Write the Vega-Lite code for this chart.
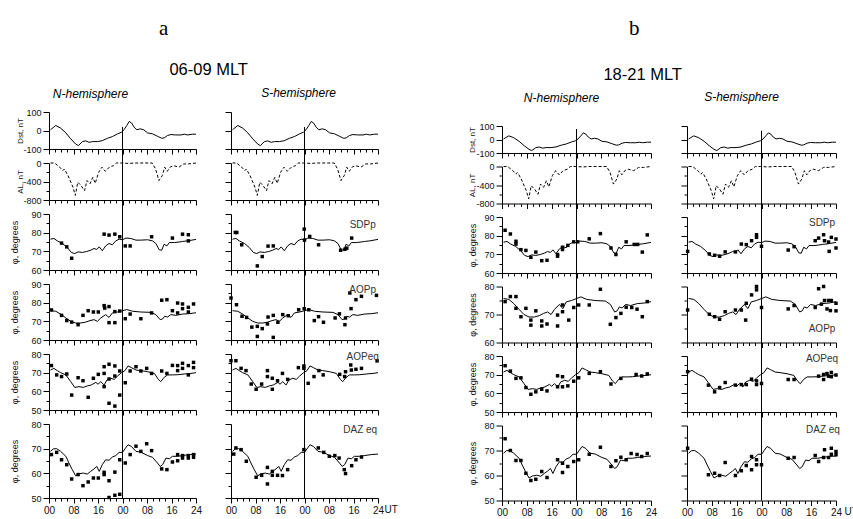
{
"$schema":"https://vega.github.io/schema/vega-lite/v6.json",
"background":"white",
"padding":{"left":10,"top":18,"right":0,"bottom":0},
"spacing":70,
"config":{"view":{"stroke":null},
"axis":{"grid":false,"domainColor":"black","tickColor":"black","labelColor":"#111","labelFont":"Liberation Sans","labelFontSize":9,"titleFont":"Liberation Sans","titleFontSize":9,"titleFontWeight":"normal","titleColor":"#111","labelPadding":2,"titlePadding":2,"domainWidth":1,"tickWidth":1,"labelOverlap":false,"labelFlush":false},
"title":{"font":"Liberation Sans","fontWeight":"normal","color":"black"},"font":"Liberation Sans"},
"datasets":{
"mid":[{"t":24}],
"lines":[
{"s":"D","t":0.5,"v":4},{"s":"D","t":2.2,"v":27},{"s":"D","t":3.8,"v":13},{"s":"D","t":5.5,"v":-13},{"s":"D","t":7.1,"v":-45},{"s":"D","t":8.7,"v":-73},{"s":"D","t":9.6,"v":-82},{"s":"D","t":10.9,"v":-60},{"s":"D","t":12,"v":-56},{"s":"D","t":13.1,"v":-64},{"s":"D","t":14.2,"v":-60},{"s":"D","t":15.8,"v":-60},{"s":"D","t":17.4,"v":-55},{"s":"D","t":19.1,"v":-42},{"s":"D","t":20.7,"v":-33},{"s":"D","t":22.4,"v":-18},{"s":"D","t":23.7,"v":-9},{"s":"D","t":24.5,"v":4},{"s":"D","t":25.4,"v":27},{"s":"D","t":26.2,"v":49},{"s":"D","t":27,"v":40},{"s":"D","t":27.8,"v":18},{"s":"D","t":28.7,"v":4},{"s":"D","t":29.8,"v":9},{"s":"D","t":30.9,"v":4},{"s":"D","t":32.2,"v":-13},{"s":"D","t":33.8,"v":-18},{"s":"D","t":35.4,"v":-31},{"s":"D","t":36.8,"v":-42},{"s":"D","t":37.6,"v":-40},{"s":"D","t":38.7,"v":-27},{"s":"D","t":39.8,"v":-22},{"s":"D","t":41.4,"v":-24},{"s":"D","t":43.1,"v":-24},{"s":"D","t":44.2,"v":-20},{"s":"D","t":45.3,"v":-24},{"s":"D","t":46.9,"v":-20},{"s":"D","t":48,"v":-20},
{"s":"A","t":0.5,"v":0},{"s":"A","t":1.8,"v":0},{"s":"A","t":3.5,"v":-90},{"s":"A","t":4.5,"v":-165},{"s":"A","t":5,"v":-130},{"s":"A","t":6.2,"v":-270},{"s":"A","t":7.8,"v":-520},{"s":"A","t":8.6,"v":-700},{"s":"A","t":9.4,"v":-415},{"s":"A","t":10.5,"v":-490},{"s":"A","t":11.6,"v":-600},{"s":"A","t":12.4,"v":-380},{"s":"A","t":13.4,"v":-450},{"s":"A","t":14.3,"v":-310},{"s":"A","t":15.1,"v":-440},{"s":"A","t":16.2,"v":-200},{"s":"A","t":17.3,"v":-90},{"s":"A","t":18.4,"v":-180},{"s":"A","t":19.7,"v":-90},{"s":"A","t":21,"v":-60},{"s":"A","t":22,"v":0},{"s":"A","t":23.8,"v":0},{"s":"A","t":26,"v":-10},{"s":"A","t":28,"v":0},{"s":"A","t":30,"v":0},{"s":"A","t":33.7,"v":0},{"s":"A","t":34.8,"v":-130},{"s":"A","t":35.9,"v":-380},{"s":"A","t":37,"v":-270},{"s":"A","t":37.8,"v":-90},{"s":"A","t":38.6,"v":-180},{"s":"A","t":39.7,"v":-80},{"s":"A","t":40.8,"v":-60},{"s":"A","t":42.4,"v":-90},{"s":"A","t":44,"v":-20},{"s":"A","t":45.6,"v":-20},{"s":"A","t":48,"v":0},
{"s":"L3","t":0.5,"v":76.5},{"s":"L3","t":1.6,"v":76.9},{"s":"L3","t":2.7,"v":75.6},{"s":"L3","t":4.4,"v":74.2},{"s":"L3","t":6,"v":72},{"s":"L3","t":7.3,"v":69.4},{"s":"L3","t":8.4,"v":68.8},{"s":"L3","t":9.5,"v":69.7},{"s":"L3","t":10.9,"v":69.4},{"s":"L3","t":12.3,"v":69.9},{"s":"L3","t":13.6,"v":70.6},{"s":"L3","t":14.7,"v":71.5},{"s":"L3","t":15.6,"v":71},{"s":"L3","t":16.4,"v":72.4},{"s":"L3","t":17.4,"v":70.3},{"s":"L3","t":18.5,"v":72.9},{"s":"L3","t":19.6,"v":74.2},{"s":"L3","t":20.7,"v":73.5},{"s":"L3","t":21.8,"v":75.6},{"s":"L3","t":22.9,"v":76.5},{"s":"L3","t":24,"v":76.2},{"s":"L3","t":25.1,"v":77.1},{"s":"L3","t":26.7,"v":76.9},{"s":"L3","t":28.4,"v":76},{"s":"L3","t":30,"v":76},{"s":"L3","t":32.2,"v":76.2},{"s":"L3","t":33.8,"v":75.6},{"s":"L3","t":34.9,"v":74.2},{"s":"L3","t":36,"v":70.8},{"s":"L3","t":36.8,"v":70.6},{"s":"L3","t":37.6,"v":73.8},{"s":"L3","t":38.5,"v":72.9},{"s":"L3","t":39.3,"v":74.7},{"s":"L3","t":40.9,"v":74.7},{"s":"L3","t":42.5,"v":75},{"s":"L3","t":43.6,"v":75.3},{"s":"L3","t":45.3,"v":75.6},{"s":"L3","t":48,"v":76.4},
{"s":"L4","t":0.5,"v":75.7},{"s":"L4","t":2.2,"v":75.4},{"s":"L4","t":3.8,"v":73.9},{"s":"L4","t":5.5,"v":71.8},{"s":"L4","t":7.1,"v":70},{"s":"L4","t":8.7,"v":69.1},{"s":"L4","t":10.4,"v":69.1},{"s":"L4","t":12,"v":69.6},{"s":"L4","t":13.4,"v":70.4},{"s":"L4","t":14.7,"v":70.9},{"s":"L4","t":15.8,"v":70},{"s":"L4","t":16.9,"v":71.8},{"s":"L4","t":18.5,"v":73.6},{"s":"L4","t":19.6,"v":72.1},{"s":"L4","t":20.7,"v":74.5},{"s":"L4","t":22.4,"v":75},{"s":"L4","t":24,"v":75.7},{"s":"L4","t":25.4,"v":76.3},{"s":"L4","t":27.3,"v":75.4},{"s":"L4","t":30,"v":75},{"s":"L4","t":33.3,"v":74.8},{"s":"L4","t":34.9,"v":73.6},{"s":"L4","t":36.3,"v":70.9},{"s":"L4","t":37.1,"v":71.3},{"s":"L4","t":37.8,"v":72.7},{"s":"L4","t":38.7,"v":72.3},{"s":"L4","t":39.8,"v":73.6},{"s":"L4","t":41.4,"v":73.2},{"s":"L4","t":43.6,"v":73.9},{"s":"L4","t":45.8,"v":74.1},{"s":"L4","t":48,"v":74.6},
{"s":"L5","t":0.5,"v":71.4},{"s":"L5","t":1.6,"v":72.3},{"s":"L5","t":2.7,"v":71.1},{"s":"L5","t":3.8,"v":70},{"s":"L5","t":5.5,"v":68.8},{"s":"L5","t":7.1,"v":65.2},{"s":"L5","t":8.4,"v":62.1},{"s":"L5","t":9.8,"v":62.5},{"s":"L5","t":11.2,"v":62.1},{"s":"L5","t":12.5,"v":62.9},{"s":"L5","t":13.8,"v":63.4},{"s":"L5","t":15.3,"v":64.8},{"s":"L5","t":16,"v":63.8},{"s":"L5","t":16.9,"v":65.2},{"s":"L5","t":18,"v":63.4},{"s":"L5","t":18.9,"v":66.1},{"s":"L5","t":20.2,"v":67},{"s":"L5","t":21.3,"v":66.4},{"s":"L5","t":22.4,"v":68.2},{"s":"L5","t":23.7,"v":70},{"s":"L5","t":24.8,"v":71.1},{"s":"L5","t":25.8,"v":73.6},{"s":"L5","t":26.9,"v":72.7},{"s":"L5","t":28.4,"v":71.4},{"s":"L5","t":30,"v":71.1},{"s":"L5","t":32.2,"v":70.5},{"s":"L5","t":34.4,"v":69.6},{"s":"L5","t":35.7,"v":66.4},{"s":"L5","t":36.5,"v":65.2},{"s":"L5","t":37.6,"v":67.5},{"s":"L5","t":38.7,"v":68.8},{"s":"L5","t":40.3,"v":68.8},{"s":"L5","t":42,"v":68.9},{"s":"L5","t":44.2,"v":69.3},{"s":"L5","t":46.4,"v":69.6},{"s":"L5","t":48,"v":70},
{"s":"L6","t":0.5,"v":68.9},{"s":"L6","t":1.4,"v":69.9},{"s":"L6","t":2.5,"v":70},{"s":"L6","t":3.8,"v":68.9},{"s":"L6","t":5.5,"v":66.9},{"s":"L6","t":6.5,"v":64.2},{"s":"L6","t":7.6,"v":61.5},{"s":"L6","t":8.7,"v":59},{"s":"L6","t":9.8,"v":59.8},{"s":"L6","t":11.2,"v":60.1},{"s":"L6","t":12.5,"v":59.7},{"s":"L6","t":13.6,"v":60.8},{"s":"L6","t":14.7,"v":61.8},{"s":"L6","t":15.6,"v":62.8},{"s":"L6","t":16.4,"v":60.8},{"s":"L6","t":17.4,"v":63.5},{"s":"L6","t":18.5,"v":65.5},{"s":"L6","t":19.6,"v":65.3},{"s":"L6","t":20.7,"v":66.6},{"s":"L6","t":21.8,"v":67.2},{"s":"L6","t":22.9,"v":68.5},{"s":"L6","t":24,"v":68.5},{"s":"L6","t":24.8,"v":69.9},{"s":"L6","t":25.8,"v":71.6},{"s":"L6","t":26.9,"v":70.9},{"s":"L6","t":28.4,"v":68.9},{"s":"L6","t":30,"v":68.6},{"s":"L6","t":32.2,"v":67.2},{"s":"L6","t":33.8,"v":66.5},{"s":"L6","t":35.4,"v":64.2},{"s":"L6","t":36.3,"v":62.8},{"s":"L6","t":37.1,"v":63.5},{"s":"L6","t":38.2,"v":66.2},{"s":"L6","t":39.3,"v":65.9},{"s":"L6","t":40.3,"v":66.9},{"s":"L6","t":42,"v":66.9},{"s":"L6","t":43.6,"v":67.2},{"s":"L6","t":45.8,"v":67.6},{"s":"L6","t":48,"v":67.8}
],
"pts":[
{"p":"aN3","t":4.1,"v":74.4},{"p":"aN3","t":5.8,"v":72.4},{"p":"aN3","t":7.4,"v":66.3},{"p":"aN3","t":18,"v":79.2},{"p":"aN3","t":19.6,"v":78.7},{"p":"aN3","t":21.5,"v":79.2},{"p":"aN3","t":23.1,"v":77.8},{"p":"aN3","t":24.9,"v":72.9},{"p":"aN3","t":26.5,"v":72.9},{"p":"aN3","t":33.5,"v":77.8},{"p":"aN3","t":40.3,"v":77.1},{"p":"aN3","t":43.6,"v":79.2},{"p":"aN3","t":45.5,"v":78.9},{"p":"aN3","t":45.5,"v":75.6},
{"p":"aN4","t":0.8,"v":76.1},{"p":"aN4","t":4.1,"v":73.2},{"p":"aN4","t":5.8,"v":70.4},{"p":"aN4","t":7.4,"v":69.6},{"p":"aN4","t":9.5,"v":68.2},{"p":"aN4","t":11.1,"v":73.2},{"p":"aN4","t":12.8,"v":75.7},{"p":"aN4","t":14.5,"v":75},{"p":"aN4","t":16.1,"v":75},{"p":"aN4","t":18,"v":78.4},{"p":"aN4","t":18.2,"v":77.1},{"p":"aN4","t":19.6,"v":77.9},{"p":"aN4","t":19.6,"v":69.3},{"p":"aN4","t":21.5,"v":69.3},{"p":"aN4","t":21.5,"v":75.2},{"p":"aN4","t":23.1,"v":75.5},{"p":"aN4","t":24.9,"v":71.4},{"p":"aN4","t":26.5,"v":73.9},{"p":"aN4","t":30,"v":71.4},{"p":"aN4","t":33.5,"v":74.5},{"p":"aN4","t":36.8,"v":81.3},{"p":"aN4","t":38.5,"v":81.6},{"p":"aN4","t":40.3,"v":75.7},{"p":"aN4","t":42,"v":74.5},{"p":"aN4","t":42,"v":79.8},{"p":"aN4","t":43.6,"v":79.3},{"p":"aN4","t":43.6,"v":76.8},{"p":"aN4","t":45.5,"v":77.5},{"p":"aN4","t":45.5,"v":75},{"p":"aN4","t":47.2,"v":79.3},
{"p":"aN5","t":0.8,"v":73.8},{"p":"aN5","t":2.5,"v":68.8},{"p":"aN5","t":4.1,"v":67.9},{"p":"aN5","t":5.8,"v":69.3},{"p":"aN5","t":7.4,"v":58},{"p":"aN5","t":9.5,"v":67.3},{"p":"aN5","t":11.1,"v":65.7},{"p":"aN5","t":12.8,"v":56.8},{"p":"aN5","t":14.5,"v":67},{"p":"aN5","t":16.1,"v":69.1},{"p":"aN5","t":18,"v":62.5},{"p":"aN5","t":18,"v":69.6},{"p":"aN5","t":18,"v":73.2},{"p":"aN5","t":19.6,"v":66.6},{"p":"aN5","t":19.6,"v":74.5},{"p":"aN5","t":21.5,"v":68.2},{"p":"aN5","t":21.5,"v":73.6},{"p":"aN5","t":19.6,"v":53.6},{"p":"aN5","t":21.5,"v":52.1},{"p":"aN5","t":23.1,"v":58},{"p":"aN5","t":23.1,"v":70.9},{"p":"aN5","t":24.9,"v":64.6},{"p":"aN5","t":26.5,"v":70.9},{"p":"aN5","t":28.4,"v":73.2},{"p":"aN5","t":30,"v":70.9},{"p":"aN5","t":31.9,"v":72.3},{"p":"aN5","t":33.5,"v":69.6},{"p":"aN5","t":36.8,"v":70.9},{"p":"aN5","t":38.5,"v":69.6},{"p":"aN5","t":40.3,"v":73.9},{"p":"aN5","t":42,"v":73.8},{"p":"aN5","t":42,"v":71.1},{"p":"aN5","t":43.6,"v":75},{"p":"aN5","t":43.6,"v":72.3},{"p":"aN5","t":45.5,"v":73.8},{"p":"aN5","t":45.5,"v":68.8},{"p":"aN5","t":47.2,"v":75.5},{"p":"aN5","t":47.2,"v":72.7},
{"p":"aN6","t":0.8,"v":67.6},{"p":"aN6","t":2.5,"v":68.5},{"p":"aN6","t":4.1,"v":65.5},{"p":"aN6","t":5.8,"v":63.5},{"p":"aN6","t":7.4,"v":57.7},{"p":"aN6","t":9.5,"v":59.5},{"p":"aN6","t":11.1,"v":55},{"p":"aN6","t":12.8,"v":56.5},{"p":"aN6","t":14.5,"v":58.1},{"p":"aN6","t":16.1,"v":58.1},{"p":"aN6","t":18,"v":60.4},{"p":"aN6","t":18,"v":59.5},{"p":"aN6","t":19.6,"v":57},{"p":"aN6","t":19.6,"v":50.2},{"p":"aN6","t":21.5,"v":60.5},{"p":"aN6","t":21.5,"v":51.1},{"p":"aN6","t":23.1,"v":65.5},{"p":"aN6","t":23.1,"v":51.5},{"p":"aN6","t":24.9,"v":64.2},{"p":"aN6","t":26.5,"v":67.6},{"p":"aN6","t":28.4,"v":71},{"p":"aN6","t":30,"v":68.9},{"p":"aN6","t":31.9,"v":72},{"p":"aN6","t":33.5,"v":69.2},{"p":"aN6","t":36.8,"v":61.8},{"p":"aN6","t":38.5,"v":61.5},{"p":"aN6","t":40.3,"v":64.6},{"p":"aN6","t":42,"v":65.1},{"p":"aN6","t":42,"v":67.6},{"p":"aN6","t":43.6,"v":67.2},{"p":"aN6","t":43.6,"v":66.2},{"p":"aN6","t":45.5,"v":67.2},{"p":"aN6","t":45.5,"v":66.2},{"p":"aN6","t":47.2,"v":67.6},{"p":"aN6","t":47.2,"v":66.5},
{"p":"aS3","t":1.4,"v":80.1},{"p":"aS3","t":1.9,"v":80.1},{"p":"aS3","t":3.5,"v":73.5},{"p":"aS3","t":8.6,"v":62.2},{"p":"aS3","t":10.2,"v":67.2},{"p":"aS3","t":12.1,"v":72.8},{"p":"aS3","t":13.8,"v":72.9},{"p":"aS3","t":23.9,"v":81.9},{"p":"aS3","t":24,"v":76},{"p":"aS3","t":25.7,"v":78},{"p":"aS3","t":28.6,"v":73.5},{"p":"aS3","t":35.8,"v":70.6},{"p":"aS3","t":37.2,"v":71.1},{"p":"aS3","t":37.8,"v":71.7},{"p":"aS3","t":39.4,"v":77.1},
{"p":"aS4","t":0,"v":82.5},{"p":"aS4","t":1.8,"v":78.9},{"p":"aS4","t":3.6,"v":72.7},{"p":"aS4","t":5.1,"v":72.1},{"p":"aS4","t":6.8,"v":66.9},{"p":"aS4","t":8.6,"v":61.9},{"p":"aS4","t":8.6,"v":67.3},{"p":"aS4","t":10.2,"v":66.1},{"p":"aS4","t":11.9,"v":68.6},{"p":"aS4","t":12.1,"v":72.3},{"p":"aS4","t":13.8,"v":73.2},{"p":"aS4","t":13.8,"v":61.4},{"p":"aS4","t":15.3,"v":69.5},{"p":"aS4","t":16.9,"v":73.6},{"p":"aS4","t":18.7,"v":73},{"p":"aS4","t":22.1,"v":76.2},{"p":"aS4","t":23.9,"v":76.8},{"p":"aS4","t":25.4,"v":76.2},{"p":"aS4","t":27.2,"v":70.4},{"p":"aS4","t":28.6,"v":72.5},{"p":"aS4","t":30.2,"v":69.5},{"p":"aS4","t":34,"v":71.8},{"p":"aS4","t":35.4,"v":74},{"p":"aS4","t":37.2,"v":68.2},{"p":"aS4","t":37.4,"v":71.8},{"p":"aS4","t":39.2,"v":76.8},{"p":"aS4","t":38.8,"v":85.2},{"p":"aS4","t":40.8,"v":81.6},{"p":"aS4","t":42.6,"v":83.4},{"p":"aS4","t":47.5,"v":83.9},
{"p":"aS5","t":0,"v":76.4},{"p":"aS5","t":1.6,"v":76.4},{"p":"aS5","t":3.3,"v":72.3},{"p":"aS5","t":4.9,"v":71.1},{"p":"aS5","t":6.6,"v":63.9},{"p":"aS5","t":8.2,"v":61.1},{"p":"aS5","t":10,"v":63.9},{"p":"aS5","t":11.9,"v":71.1},{"p":"aS5","t":11.9,"v":67.9},{"p":"aS5","t":13.5,"v":67},{"p":"aS5","t":13.5,"v":61.1},{"p":"aS5","t":15.2,"v":65.7},{"p":"aS5","t":16.8,"v":69.6},{"p":"aS5","t":18.5,"v":66.4},{"p":"aS5","t":22,"v":72.7},{"p":"aS5","t":23.8,"v":73.6},{"p":"aS5","t":23.8,"v":72.3},{"p":"aS5","t":25.2,"v":64.3},{"p":"aS5","t":27.1,"v":67.9},{"p":"aS5","t":28.7,"v":71.1},{"p":"aS5","t":30.1,"v":68.8},{"p":"aS5","t":35.5,"v":69.1},{"p":"aS5","t":37.1,"v":67.9},{"p":"aS5","t":37.4,"v":70.5},{"p":"aS5","t":39.1,"v":74.1},{"p":"aS5","t":39.3,"v":71.4},{"p":"aS5","t":40.8,"v":71.8},{"p":"aS5","t":42.6,"v":72.3},{"p":"aS5","t":47.7,"v":76.3},
{"p":"aS6","t":0.9,"v":67.8},{"p":"aS6","t":1.6,"v":70.3},{"p":"aS6","t":3.3,"v":69.6},{"p":"aS6","t":5,"v":64.9},{"p":"aS6","t":8.2,"v":58.4},{"p":"aS6","t":10,"v":59.2},{"p":"aS6","t":11.9,"v":62.4},{"p":"aS6","t":11.9,"v":55.7},{"p":"aS6","t":13.5,"v":60.8},{"p":"aS6","t":13.5,"v":59.2},{"p":"aS6","t":15.2,"v":59.2},{"p":"aS6","t":16.8,"v":59.1},{"p":"aS6","t":18.5,"v":61.5},{"p":"aS6","t":23.8,"v":69.6},{"p":"aS6","t":28.5,"v":70.3},{"p":"aS6","t":30.3,"v":68.5},{"p":"aS6","t":32.1,"v":66.9},{"p":"aS6","t":33.9,"v":67.2},{"p":"aS6","t":35.3,"v":66.2},{"p":"aS6","t":37,"v":61.5},{"p":"aS6","t":37.4,"v":59.9},{"p":"aS6","t":39.4,"v":63.1},{"p":"aS6","t":40.8,"v":65.5},{"p":"aS6","t":42.6,"v":66.6},
{"p":"bN3","t":1,"v":82.9},{"p":"bN3","t":2.7,"v":80.9},{"p":"bN3","t":4.5,"v":77},{"p":"bN3","t":4.5,"v":75.5},{"p":"bN3","t":6.1,"v":72.5},{"p":"bN3","t":7.7,"v":72.1},{"p":"bN3","t":9.3,"v":68.4},{"p":"bN3","t":10.9,"v":71.2},{"p":"bN3","t":12.8,"v":66.6},{"p":"bN3","t":14.5,"v":66.8},{"p":"bN3","t":17.9,"v":69.9},{"p":"bN3","t":17.9,"v":69},{"p":"bN3","t":19.5,"v":72.6},{"p":"bN3","t":19.5,"v":73.8},{"p":"bN3","t":21.2,"v":74.8},{"p":"bN3","t":23.1,"v":76.7},{"p":"bN3","t":24.4,"v":76.7},{"p":"bN3","t":28.1,"v":78.3},{"p":"bN3","t":31.7,"v":81.1},{"p":"bN3","t":35.1,"v":73.4},{"p":"bN3","t":36.7,"v":69.9},{"p":"bN3","t":40,"v":76.7},{"p":"bN3","t":42.6,"v":75.3},{"p":"bN3","t":43.7,"v":75.3},{"p":"bN3","t":45.2,"v":71.2},{"p":"bN3","t":46.8,"v":80.4},
{"p":"bN4","t":1,"v":74.6},{"p":"bN4","t":2.7,"v":76.4},{"p":"bN4","t":4.5,"v":76.4},{"p":"bN4","t":4.5,"v":72.2},{"p":"bN4","t":6.1,"v":69.2},{"p":"bN4","t":7.7,"v":72.2},{"p":"bN4","t":9.3,"v":66.2},{"p":"bN4","t":9.3,"v":68},{"p":"bN4","t":10.9,"v":71.3},{"p":"bN4","t":12.8,"v":67.7},{"p":"bN4","t":12.8,"v":65.9},{"p":"bN4","t":14.5,"v":66.6},{"p":"bN4","t":17.9,"v":65.9},{"p":"bN4","t":17.9,"v":69.8},{"p":"bN4","t":19.5,"v":71},{"p":"bN4","t":19.5,"v":73.4},{"p":"bN4","t":21.5,"v":68},{"p":"bN4","t":23.1,"v":72.5},{"p":"bN4","t":24.7,"v":73.4},{"p":"bN4","t":28.1,"v":73.4},{"p":"bN4","t":31.7,"v":79},{"p":"bN4","t":34.9,"v":66.5},{"p":"bN4","t":36.7,"v":68.9},{"p":"bN4","t":38.3,"v":70.4},{"p":"bN4","t":40,"v":72.6},{"p":"bN4","t":41.8,"v":72.5},{"p":"bN4","t":43.5,"v":71.9},{"p":"bN4","t":45.2,"v":69.2},{"p":"bN4","t":46.8,"v":74.6},
{"p":"bN5","t":1,"v":74.8},{"p":"bN5","t":2.7,"v":71.9},{"p":"bN5","t":4.5,"v":68},{"p":"bN5","t":6.1,"v":68.3},{"p":"bN5","t":7.7,"v":63.1},{"p":"bN5","t":9.3,"v":59.5},{"p":"bN5","t":10.9,"v":60.8},{"p":"bN5","t":12.8,"v":62.2},{"p":"bN5","t":14.5,"v":61.3},{"p":"bN5","t":17.9,"v":69.4},{"p":"bN5","t":17.9,"v":63.5},{"p":"bN5","t":19.5,"v":68.9},{"p":"bN5","t":19.5,"v":63.5},{"p":"bN5","t":21.2,"v":64},{"p":"bN5","t":23.1,"v":66.5},{"p":"bN5","t":24.7,"v":68.3},{"p":"bN5","t":28.1,"v":70.7},{"p":"bN5","t":31.7,"v":71.6},{"p":"bN5","t":35.1,"v":65},{"p":"bN5","t":38.3,"v":68},{"p":"bN5","t":43.2,"v":70.1},{"p":"bN5","t":45,"v":69.3},{"p":"bN5","t":46.8,"v":70.4},
{"p":"bN6","t":1,"v":74.7},{"p":"bN6","t":2.7,"v":70},{"p":"bN6","t":4.5,"v":66},{"p":"bN6","t":6.1,"v":66},{"p":"bN6","t":7.7,"v":60.9},{"p":"bN6","t":9.3,"v":58},{"p":"bN6","t":10.9,"v":58.5},{"p":"bN6","t":12.8,"v":61.6},{"p":"bN6","t":14.5,"v":59.2},{"p":"bN6","t":17.9,"v":66.3},{"p":"bN6","t":19.5,"v":64.9},{"p":"bN6","t":19.5,"v":61.2},{"p":"bN6","t":21.2,"v":63.6},{"p":"bN6","t":23.1,"v":65.6},{"p":"bN6","t":24.7,"v":66.3},{"p":"bN6","t":28.1,"v":68.5},{"p":"bN6","t":31.7,"v":71.3},{"p":"bN6","t":35.1,"v":63.6},{"p":"bN6","t":36.7,"v":65.9},{"p":"bN6","t":38.3,"v":67.3},{"p":"bN6","t":40,"v":66.3},{"p":"bN6","t":41.6,"v":68.8},{"p":"bN6","t":43.5,"v":68.4},{"p":"bN6","t":45,"v":67.6},{"p":"bN6","t":46.8,"v":68.8},
{"p":"bS3","t":0.2,"v":71.6},{"p":"bS3","t":7.2,"v":70.2},{"p":"bS3","t":8.9,"v":69.5},{"p":"bS3","t":10.5,"v":69},{"p":"bS3","t":12.3,"v":71.3},{"p":"bS3","t":15.6,"v":71.3},{"p":"bS3","t":17.5,"v":75.5},{"p":"bS3","t":19.1,"v":75.2},{"p":"bS3","t":20.8,"v":77.3},{"p":"bS3","t":22.4,"v":79.1},{"p":"bS3","t":22.4,"v":80.5},{"p":"bS3","t":24,"v":74.3},{"p":"bS3","t":32.6,"v":72.3},{"p":"bS3","t":34.5,"v":74.1},{"p":"bS3","t":41.3,"v":77.3},{"p":"bS3","t":42.4,"v":78.7},{"p":"bS3","t":44,"v":80.5},{"p":"bS3","t":44.3,"v":77.3},{"p":"bS3","t":45.6,"v":76.6},{"p":"bS3","t":45.8,"v":71.6},{"p":"bS3","t":46.5,"v":79.1},{"p":"bS3","t":48,"v":78.2},{"p":"bS3","t":48,"v":73.4},
{"p":"bS4","t":0.2,"v":71.6},{"p":"bS4","t":7.2,"v":70.1},{"p":"bS4","t":8.9,"v":69.2},{"p":"bS4","t":10.5,"v":68.3},{"p":"bS4","t":12.3,"v":71},{"p":"bS4","t":15.6,"v":71.6},{"p":"bS4","t":17.5,"v":71.6},{"p":"bS4","t":18.9,"v":68},{"p":"bS4","t":19.1,"v":74},{"p":"bS4","t":20.8,"v":77},{"p":"bS4","t":22.4,"v":78.8},{"p":"bS4","t":22.4,"v":80},{"p":"bS4","t":24,"v":72.5},{"p":"bS4","t":32.6,"v":72},{"p":"bS4","t":34.5,"v":73.2},{"p":"bS4","t":41.3,"v":72.5},{"p":"bS4","t":42.4,"v":79.2},{"p":"bS4","t":44,"v":80},{"p":"bS4","t":43.3,"v":73.7},{"p":"bS4","t":44.3,"v":75},{"p":"bS4","t":45.6,"v":75},{"p":"bS4","t":46.5,"v":75},{"p":"bS4","t":46.2,"v":71.4},{"p":"bS4","t":48,"v":71.3},{"p":"bS4","t":48,"v":74},{"p":"bS4","t":45.1,"v":72},
{"p":"bS5","t":0.2,"v":71.6},{"p":"bS5","t":6.9,"v":64.4},{"p":"bS5","t":8.9,"v":60.8},{"p":"bS5","t":10.5,"v":63.1},{"p":"bS5","t":12.3,"v":65.8},{"p":"bS5","t":15.6,"v":64.4},{"p":"bS5","t":17.5,"v":64.7},{"p":"bS5","t":19.1,"v":64.7},{"p":"bS5","t":20.8,"v":67.6},{"p":"bS5","t":22.4,"v":66.7},{"p":"bS5","t":22.4,"v":64.7},{"p":"bS5","t":24,"v":65.3},{"p":"bS5","t":32.6,"v":67.4},{"p":"bS5","t":34.5,"v":67.4},{"p":"bS5","t":42.4,"v":69.2},{"p":"bS5","t":44,"v":70.1},{"p":"bS5","t":44,"v":67.4},{"p":"bS5","t":45.1,"v":70.6},{"p":"bS5","t":45.6,"v":69.2},{"p":"bS5","t":46.5,"v":71.2},{"p":"bS5","t":46.5,"v":68.9},{"p":"bS5","t":48,"v":69.8},
{"p":"bS6","t":0.2,"v":70.9},{"p":"bS6","t":6.9,"v":60.3},{"p":"bS6","t":8.9,"v":60.9},{"p":"bS6","t":10.5,"v":60},{"p":"bS6","t":12.3,"v":65.2},{"p":"bS6","t":15.6,"v":60},{"p":"bS6","t":17.5,"v":61.9},{"p":"bS6","t":19.1,"v":64},{"p":"bS6","t":20.8,"v":67.6},{"p":"bS6","t":20.8,"v":62.3},{"p":"bS6","t":22.4,"v":66.3},{"p":"bS6","t":22.4,"v":64.3},{"p":"bS6","t":24,"v":64.3},{"p":"bS6","t":32.6,"v":66.9},{"p":"bS6","t":34.5,"v":67.2},{"p":"bS6","t":41.3,"v":68},{"p":"bS6","t":42.4,"v":65.6},{"p":"bS6","t":44,"v":67.2},{"p":"bS6","t":44.3,"v":70.3},{"p":"bS6","t":45.6,"v":67.2},{"p":"bS6","t":46.5,"v":70.9},{"p":"bS6","t":46.5,"v":68.5},{"p":"bS6","t":48,"v":69.6},{"p":"bS6","t":48,"v":68.3}
]},
"hconcat":[
{"spacing":22,"vconcat":[
{"width":330,"height":1,"data":{"values":[]},"mark":"point","title":{"text":"a","font":"Liberation Serif","fontSize":21,"anchor":"start","frame":"group","offset":0,"dx":110}},
{"title":{"text":"06-09 MLT","fontSize":16.5,"offset":8,"dx":5,"anchor":"middle"},
"columns":2,"bounds":"flush","spacing":{"row":14,"column":35},
"concat":[
{"width":147,"height":37,"title":{"text":"N-hemisphere","frame":"group","fontStyle":"italic","fontSize":12,"offset":7,"dx":-32},
"layer":[
{"data":{"name":"lines"},"transform":[{"filter":"datum.s==='D'"}],"mark":{"type":"line","color":"black","strokeWidth":1},
"encoding":{"x":{"field":"t","type":"quantitative","scale":{"domain":[0,48],"nice":false},"axis":{"tickCount":24,"labels":false,"title":null,"tickSize":{"condition":{"test":"datum.value % 8 === 0","value":5},"value":3}}},
"y":{"field":"v","type":"quantitative","scale":{"domain":[-100,100],"nice":false,"zero":false},"axis":{"tickCount":2,"labelExpr":"'' + datum.value","title":"Dst, nT","titleX":-25,"titleFontSize":8,"tickSize":6}}}},
{"data":{"name":"mid"},"mark":{"type":"rule","color":"black","strokeWidth":1},
"encoding":{"x":{"field":"t","type":"quantitative","scale":{"domain":[0,48],"nice":false},"axis":{"tickCount":24,"labels":false,"title":null,"tickSize":{"condition":{"test":"datum.value % 8 === 0","value":5},"value":3}}},
"y":{"datum":19,"type":"quantitative","scale":{"domain":[-100,100],"nice":false,"zero":false},"axis":{"tickCount":2,"labelExpr":"'' + datum.value","title":"Dst, nT","titleX":-25,"titleFontSize":8,"tickSize":6}},"y2":{"datum":-250}}}]},
{"width":147,"height":37,"title":{"text":"S-hemisphere","frame":"group","fontStyle":"italic","fontSize":12,"offset":12,"dx":-6},
"layer":[
{"data":{"name":"lines"},"transform":[{"filter":"datum.s==='D'"}],"mark":{"type":"line","color":"black","strokeWidth":1},
"encoding":{"x":{"field":"t","type":"quantitative","scale":{"domain":[0,48],"nice":false},"axis":{"tickCount":24,"labels":false,"title":null,"tickSize":{"condition":{"test":"datum.value % 8 === 0","value":5},"value":3}}},
"y":{"field":"v","type":"quantitative","scale":{"domain":[-100,100],"nice":false,"zero":false},"axis":{"tickCount":2,"labels":false,"title":null,"tickSize":6}}}},
{"data":{"name":"mid"},"mark":{"type":"rule","color":"black","strokeWidth":1},
"encoding":{"x":{"field":"t","type":"quantitative","scale":{"domain":[0,48],"nice":false},"axis":{"tickCount":24,"labels":false,"title":null,"tickSize":{"condition":{"test":"datum.value % 8 === 0","value":5},"value":3}}},
"y":{"datum":19,"type":"quantitative","scale":{"domain":[-100,100],"nice":false,"zero":false},"axis":{"tickCount":2,"labels":false,"title":null,"tickSize":6}},"y2":{"datum":-250}}}]},
{"width":147,"height":37,
"layer":[
{"data":{"name":"lines"},"transform":[{"filter":"datum.s==='A'"}],"mark":{"type":"line","color":"black","strokeWidth":1,"strokeDash":[3,2]},
"encoding":{"x":{"field":"t","type":"quantitative","scale":{"domain":[0,48],"nice":false},"axis":{"tickCount":24,"labels":false,"title":null,"tickSize":{"condition":{"test":"datum.value % 8 === 0","value":5},"value":3}}},
"y":{"field":"v","type":"quantitative","scale":{"domain":[-800,0],"nice":false,"zero":false},"axis":{"tickCount":4,"labelExpr":"datum.value % 400 === 0 ? '' + datum.value : ''","title":"AL, nT","titleX":-25,"titleFontSize":8,"tickSize":{"condition":{"test":"datum.value % 400 === 0","value":6},"value":3}}}}},
{"data":{"name":"mid"},"mark":{"type":"rule","color":"black","strokeWidth":1},
"encoding":{"x":{"field":"t","type":"quantitative","scale":{"domain":[0,48],"nice":false},"axis":{"tickCount":24,"labels":false,"title":null,"tickSize":{"condition":{"test":"datum.value % 8 === 0","value":5},"value":3}}},
"y":{"datum":0,"type":"quantitative","scale":{"domain":[-800,0],"nice":false,"zero":false},"axis":{"tickCount":4,"labelExpr":"datum.value % 400 === 0 ? '' + datum.value : ''","title":"AL, nT","titleX":-25,"titleFontSize":8,"tickSize":{"condition":{"test":"datum.value % 400 === 0","value":6},"value":3}}},"y2":{"datum":-1200}}}]},
{"width":147,"height":37,
"layer":[
{"data":{"name":"lines"},"transform":[{"filter":"datum.s==='A'"}],"mark":{"type":"line","color":"black","strokeWidth":1,"strokeDash":[3,2]},
"encoding":{"x":{"field":"t","type":"quantitative","scale":{"domain":[0,48],"nice":false},"axis":{"tickCount":24,"labels":false,"title":null,"tickSize":{"condition":{"test":"datum.value % 8 === 0","value":5},"value":3}}},
"y":{"field":"v","type":"quantitative","scale":{"domain":[-800,0],"nice":false,"zero":false},"axis":{"tickCount":4,"labels":false,"title":null,"tickSize":{"condition":{"test":"datum.value % 400 === 0","value":6},"value":3}}}}},
{"data":{"name":"mid"},"mark":{"type":"rule","color":"black","strokeWidth":1},
"encoding":{"x":{"field":"t","type":"quantitative","scale":{"domain":[0,48],"nice":false},"axis":{"tickCount":24,"labels":false,"title":null,"tickSize":{"condition":{"test":"datum.value % 8 === 0","value":5},"value":3}}},
"y":{"datum":0,"type":"quantitative","scale":{"domain":[-800,0],"nice":false,"zero":false},"axis":{"tickCount":4,"labels":false,"title":null,"tickSize":{"condition":{"test":"datum.value % 400 === 0","value":6},"value":3}}},"y2":{"datum":-1200}}}]},
{"width":147,"height":56,
"layer":[
{"encoding":{"x":{"field":"t","type":"quantitative","scale":{"domain":[0,48],"nice":false},"axis":{"tickCount":24,"labels":false,"title":null,"tickSize":{"condition":{"test":"datum.value % 8 === 0","value":5},"value":3}}},
"y":{"field":"v","type":"quantitative","scale":{"domain":[60,90],"nice":false,"zero":false},"axis":{"tickCount":6,"labelExpr":"datum.value % 10 === 0 ? '' + datum.value : ''","title":"φ, degrees","titleX":-30,"tickSize":{"condition":{"test":"datum.value % 10 === 0","value":6},"value":3}}}},
"layer":[{"data":{"name":"lines"},"transform":[{"filter":"datum.s==='L3'"}],"mark":{"type":"line","color":"black","strokeWidth":1}},
{"data":{"name":"pts"},"transform":[{"filter":"datum.p==='aN3'"}],"mark":{"type":"square","color":"black","size":12,"opacity":1}}]},
{"data":{"name":"mid"},"mark":{"type":"rule","color":"black","strokeWidth":1},
"encoding":{"x":{"field":"t","type":"quantitative","scale":{"domain":[0,48],"nice":false},"axis":{"tickCount":24,"labels":false,"title":null,"tickSize":{"condition":{"test":"datum.value % 8 === 0","value":5},"value":3}}},
"y":{"datum":90,"type":"quantitative","scale":{"domain":[60,90],"nice":false,"zero":false},"axis":{"tickCount":6,"labelExpr":"datum.value % 10 === 0 ? '' + datum.value : ''","title":"φ, degrees","titleX":-30,"tickSize":{"condition":{"test":"datum.value % 10 === 0","value":6},"value":3}}},"y2":{"datum":45}}}]},
{"width":147,"height":56,
"layer":[
{"encoding":{"x":{"field":"t","type":"quantitative","scale":{"domain":[0,48],"nice":false},"axis":{"tickCount":24,"labels":false,"title":null,"tickSize":{"condition":{"test":"datum.value % 8 === 0","value":5},"value":3}}},
"y":{"field":"v","type":"quantitative","scale":{"domain":[60,90],"nice":false,"zero":false},"axis":{"tickCount":6,"labels":false,"title":null,"tickSize":{"condition":{"test":"datum.value % 10 === 0","value":6},"value":3}}}},
"layer":[{"data":{"name":"lines"},"transform":[{"filter":"datum.s==='L3'"}],"mark":{"type":"line","color":"black","strokeWidth":1}},
{"data":{"name":"pts"},"transform":[{"filter":"datum.p==='aS3'"}],"mark":{"type":"square","color":"black","size":12,"opacity":1}}]},
{"data":{"name":"mid"},"mark":{"type":"rule","color":"black","strokeWidth":1},
"encoding":{"x":{"field":"t","type":"quantitative","scale":{"domain":[0,48],"nice":false},"axis":{"tickCount":24,"labels":false,"title":null,"tickSize":{"condition":{"test":"datum.value % 8 === 0","value":5},"value":3}}},
"y":{"datum":90,"type":"quantitative","scale":{"domain":[60,90],"nice":false,"zero":false},"axis":{"tickCount":6,"labels":false,"title":null,"tickSize":{"condition":{"test":"datum.value % 10 === 0","value":6},"value":3}}},"y2":{"datum":45}}},
{"data":{"name":"mid"},"mark":{"type":"text","text":"SDPp","fontSize":10,"color":"#333"},
"encoding":{"x":{"datum":43,"type":"quantitative","scale":{"domain":[0,48],"nice":false},"axis":{"tickCount":24,"labels":false,"title":null,"tickSize":{"condition":{"test":"datum.value % 8 === 0","value":5},"value":3}}},
"y":{"datum":84,"type":"quantitative","scale":{"domain":[60,90],"nice":false,"zero":false},"axis":{"tickCount":6,"labels":false,"title":null,"tickSize":{"condition":{"test":"datum.value % 10 === 0","value":6},"value":3}}}}}]},
{"width":147,"height":56,
"layer":[
{"encoding":{"x":{"field":"t","type":"quantitative","scale":{"domain":[0,48],"nice":false},"axis":{"tickCount":24,"labels":false,"title":null,"tickSize":{"condition":{"test":"datum.value % 8 === 0","value":5},"value":3}}},
"y":{"field":"v","type":"quantitative","scale":{"domain":[60,90],"nice":false,"zero":false},"axis":{"tickCount":6,"labelExpr":"datum.value % 10 === 0 ? '' + datum.value : ''","title":"φ, degrees","titleX":-30,"tickSize":{"condition":{"test":"datum.value % 10 === 0","value":6},"value":3}}}},
"layer":[{"data":{"name":"lines"},"transform":[{"filter":"datum.s==='L4'"}],"mark":{"type":"line","color":"black","strokeWidth":1}},
{"data":{"name":"pts"},"transform":[{"filter":"datum.p==='aN4'"}],"mark":{"type":"square","color":"black","size":12,"opacity":1}}]},
{"data":{"name":"mid"},"mark":{"type":"rule","color":"black","strokeWidth":1},
"encoding":{"x":{"field":"t","type":"quantitative","scale":{"domain":[0,48],"nice":false},"axis":{"tickCount":24,"labels":false,"title":null,"tickSize":{"condition":{"test":"datum.value % 8 === 0","value":5},"value":3}}},
"y":{"datum":90,"type":"quantitative","scale":{"domain":[60,90],"nice":false,"zero":false},"axis":{"tickCount":6,"labelExpr":"datum.value % 10 === 0 ? '' + datum.value : ''","title":"φ, degrees","titleX":-30,"tickSize":{"condition":{"test":"datum.value % 10 === 0","value":6},"value":3}}},"y2":{"datum":45}}}]},
{"width":147,"height":56,
"layer":[
{"encoding":{"x":{"field":"t","type":"quantitative","scale":{"domain":[0,48],"nice":false},"axis":{"tickCount":24,"labels":false,"title":null,"tickSize":{"condition":{"test":"datum.value % 8 === 0","value":5},"value":3}}},
"y":{"field":"v","type":"quantitative","scale":{"domain":[60,90],"nice":false,"zero":false},"axis":{"tickCount":6,"labels":false,"title":null,"tickSize":{"condition":{"test":"datum.value % 10 === 0","value":6},"value":3}}}},
"layer":[{"data":{"name":"lines"},"transform":[{"filter":"datum.s==='L4'"}],"mark":{"type":"line","color":"black","strokeWidth":1}},
{"data":{"name":"pts"},"transform":[{"filter":"datum.p==='aS4'"}],"mark":{"type":"square","color":"black","size":12,"opacity":1}}]},
{"data":{"name":"mid"},"mark":{"type":"rule","color":"black","strokeWidth":1},
"encoding":{"x":{"field":"t","type":"quantitative","scale":{"domain":[0,48],"nice":false},"axis":{"tickCount":24,"labels":false,"title":null,"tickSize":{"condition":{"test":"datum.value % 8 === 0","value":5},"value":3}}},
"y":{"datum":90,"type":"quantitative","scale":{"domain":[60,90],"nice":false,"zero":false},"axis":{"tickCount":6,"labels":false,"title":null,"tickSize":{"condition":{"test":"datum.value % 10 === 0","value":6},"value":3}}},"y2":{"datum":45}}},
{"data":{"name":"mid"},"mark":{"type":"text","text":"AOPp","fontSize":10,"color":"#333"},
"encoding":{"x":{"datum":43,"type":"quantitative","scale":{"domain":[0,48],"nice":false},"axis":{"tickCount":24,"labels":false,"title":null,"tickSize":{"condition":{"test":"datum.value % 8 === 0","value":5},"value":3}}},
"y":{"datum":87,"type":"quantitative","scale":{"domain":[60,90],"nice":false,"zero":false},"axis":{"tickCount":6,"labels":false,"title":null,"tickSize":{"condition":{"test":"datum.value % 10 === 0","value":6},"value":3}}}}}]},
{"width":147,"height":56,
"layer":[
{"encoding":{"x":{"field":"t","type":"quantitative","scale":{"domain":[0,48],"nice":false},"axis":{"tickCount":24,"labels":false,"title":null,"tickSize":{"condition":{"test":"datum.value % 8 === 0","value":5},"value":3}}},
"y":{"field":"v","type":"quantitative","scale":{"domain":[50,80],"nice":false,"zero":false},"axis":{"tickCount":6,"labelExpr":"datum.value % 10 === 0 ? '' + datum.value : ''","title":"φ, degrees","titleX":-30,"tickSize":{"condition":{"test":"datum.value % 10 === 0","value":6},"value":3}}}},
"layer":[{"data":{"name":"lines"},"transform":[{"filter":"datum.s==='L5'"}],"mark":{"type":"line","color":"black","strokeWidth":1}},
{"data":{"name":"pts"},"transform":[{"filter":"datum.p==='aN5'"}],"mark":{"type":"square","color":"black","size":12,"opacity":1}}]},
{"data":{"name":"mid"},"mark":{"type":"rule","color":"black","strokeWidth":1},
"encoding":{"x":{"field":"t","type":"quantitative","scale":{"domain":[0,48],"nice":false},"axis":{"tickCount":24,"labels":false,"title":null,"tickSize":{"condition":{"test":"datum.value % 8 === 0","value":5},"value":3}}},
"y":{"datum":80,"type":"quantitative","scale":{"domain":[50,80],"nice":false,"zero":false},"axis":{"tickCount":6,"labelExpr":"datum.value % 10 === 0 ? '' + datum.value : ''","title":"φ, degrees","titleX":-30,"tickSize":{"condition":{"test":"datum.value % 10 === 0","value":6},"value":3}}},"y2":{"datum":35}}}]},
{"width":147,"height":56,
"layer":[
{"encoding":{"x":{"field":"t","type":"quantitative","scale":{"domain":[0,48],"nice":false},"axis":{"tickCount":24,"labels":false,"title":null,"tickSize":{"condition":{"test":"datum.value % 8 === 0","value":5},"value":3}}},
"y":{"field":"v","type":"quantitative","scale":{"domain":[50,80],"nice":false,"zero":false},"axis":{"tickCount":6,"labels":false,"title":null,"tickSize":{"condition":{"test":"datum.value % 10 === 0","value":6},"value":3}}}},
"layer":[{"data":{"name":"lines"},"transform":[{"filter":"datum.s==='L5'"}],"mark":{"type":"line","color":"black","strokeWidth":1}},
{"data":{"name":"pts"},"transform":[{"filter":"datum.p==='aS5'"}],"mark":{"type":"square","color":"black","size":12,"opacity":1}}]},
{"data":{"name":"mid"},"mark":{"type":"rule","color":"black","strokeWidth":1},
"encoding":{"x":{"field":"t","type":"quantitative","scale":{"domain":[0,48],"nice":false},"axis":{"tickCount":24,"labels":false,"title":null,"tickSize":{"condition":{"test":"datum.value % 8 === 0","value":5},"value":3}}},
"y":{"datum":80,"type":"quantitative","scale":{"domain":[50,80],"nice":false,"zero":false},"axis":{"tickCount":6,"labels":false,"title":null,"tickSize":{"condition":{"test":"datum.value % 10 === 0","value":6},"value":3}}},"y2":{"datum":35}}},
{"data":{"name":"mid"},"mark":{"type":"text","text":"AOPeq","fontSize":10,"color":"#333"},
"encoding":{"x":{"datum":43,"type":"quantitative","scale":{"domain":[0,48],"nice":false},"axis":{"tickCount":24,"labels":false,"title":null,"tickSize":{"condition":{"test":"datum.value % 8 === 0","value":5},"value":3}}},
"y":{"datum":78.4,"type":"quantitative","scale":{"domain":[50,80],"nice":false,"zero":false},"axis":{"tickCount":6,"labels":false,"title":null,"tickSize":{"condition":{"test":"datum.value % 10 === 0","value":6},"value":3}}}}}]},
{"width":147,"height":74,
"layer":[
{"encoding":{"x":{"field":"t","type":"quantitative","scale":{"domain":[0,48],"nice":false},"axis":{"tickCount":24,"labelFontSize":10,"labelPadding":2,"labelExpr":"datum.value % 8 !== 0 ? '' : datum.value === 48 ? '24' : (datum.value % 24 < 10 ? '0' : '') + (datum.value % 24)","title":null,"tickSize":{"condition":{"test":"datum.value % 8 === 0","value":5},"value":3}}},
"y":{"field":"v","type":"quantitative","scale":{"domain":[50,80],"nice":false,"zero":false},"axis":{"tickCount":6,"labelExpr":"datum.value % 10 === 0 ? '' + datum.value : ''","title":"φ, degrees","titleX":-30,"tickSize":{"condition":{"test":"datum.value % 10 === 0","value":6},"value":3}}}},
"layer":[{"data":{"name":"lines"},"transform":[{"filter":"datum.s==='L6'"}],"mark":{"type":"line","color":"black","strokeWidth":1}},
{"data":{"name":"pts"},"transform":[{"filter":"datum.p==='aN6'"}],"mark":{"type":"square","color":"black","size":12,"opacity":1}}]},
{"data":{"name":"mid"},"mark":{"type":"rule","color":"black","strokeWidth":1},
"encoding":{"x":{"field":"t","type":"quantitative","scale":{"domain":[0,48],"nice":false},"axis":{"tickCount":24,"labelFontSize":10,"labelPadding":2,"labelExpr":"datum.value % 8 !== 0 ? '' : datum.value === 48 ? '24' : (datum.value % 24 < 10 ? '0' : '') + (datum.value % 24)","title":null,"tickSize":{"condition":{"test":"datum.value % 8 === 0","value":5},"value":3}}},
"y":{"datum":80,"type":"quantitative","scale":{"domain":[50,80],"nice":false,"zero":false},"axis":{"tickCount":6,"labelExpr":"datum.value % 10 === 0 ? '' + datum.value : ''","title":"φ, degrees","titleX":-30,"tickSize":{"condition":{"test":"datum.value % 10 === 0","value":6},"value":3}}},"y2":{"datum":50}}}]},
{"width":147,"height":74,
"layer":[
{"encoding":{"x":{"field":"t","type":"quantitative","scale":{"domain":[0,48],"nice":false},"axis":{"tickCount":24,"labelFontSize":10,"labelPadding":2,"labelExpr":"datum.value % 8 !== 0 ? '' : datum.value === 48 ? '24' : (datum.value % 24 < 10 ? '0' : '') + (datum.value % 24)","title":"UT","titleAnchor":"end","titleAlign":"left","titleAngle":0,"titleX":153,"titleY":14,"titleBaseline":"alphabetic","titleFontSize":10,"tickSize":{"condition":{"test":"datum.value % 8 === 0","value":5},"value":3}}},
"y":{"field":"v","type":"quantitative","scale":{"domain":[50,80],"nice":false,"zero":false},"axis":{"tickCount":6,"labels":false,"title":null,"tickSize":{"condition":{"test":"datum.value % 10 === 0","value":6},"value":3}}}},
"layer":[{"data":{"name":"lines"},"transform":[{"filter":"datum.s==='L6'"}],"mark":{"type":"line","color":"black","strokeWidth":1}},
{"data":{"name":"pts"},"transform":[{"filter":"datum.p==='aS6'"}],"mark":{"type":"square","color":"black","size":12,"opacity":1}}]},
{"data":{"name":"mid"},"mark":{"type":"rule","color":"black","strokeWidth":1},
"encoding":{"x":{"field":"t","type":"quantitative","scale":{"domain":[0,48],"nice":false},"axis":{"tickCount":24,"labelFontSize":10,"labelPadding":2,"labelExpr":"datum.value % 8 !== 0 ? '' : datum.value === 48 ? '24' : (datum.value % 24 < 10 ? '0' : '') + (datum.value % 24)","title":"UT","titleAnchor":"end","titleAlign":"left","titleAngle":0,"titleX":153,"titleY":14,"titleBaseline":"alphabetic","titleFontSize":10,"tickSize":{"condition":{"test":"datum.value % 8 === 0","value":5},"value":3}}},
"y":{"datum":80,"type":"quantitative","scale":{"domain":[50,80],"nice":false,"zero":false},"axis":{"tickCount":6,"labels":false,"title":null,"tickSize":{"condition":{"test":"datum.value % 10 === 0","value":6},"value":3}}},"y2":{"datum":50}}},
{"data":{"name":"mid"},"mark":{"type":"text","text":"DAZ eq","fontSize":10,"color":"#333"},
"encoding":{"x":{"datum":42.2,"type":"quantitative","scale":{"domain":[0,48],"nice":false},"axis":{"tickCount":24,"labelFontSize":10,"labelPadding":2,"labelExpr":"datum.value % 8 !== 0 ? '' : datum.value === 48 ? '24' : (datum.value % 24 < 10 ? '0' : '') + (datum.value % 24)","title":"UT","titleAnchor":"end","titleAlign":"left","titleAngle":0,"titleX":153,"titleY":14,"titleBaseline":"alphabetic","titleFontSize":10,"tickSize":{"condition":{"test":"datum.value % 8 === 0","value":5},"value":3}}},
"y":{"datum":77.6,"type":"quantitative","scale":{"domain":[50,80],"nice":false,"zero":false},"axis":{"tickCount":6,"labels":false,"title":null,"tickSize":{"condition":{"test":"datum.value % 10 === 0","value":6},"value":3}}}}}]}
]}]},
{"spacing":27,"vconcat":[
{"width":334,"height":1,"data":{"values":[]},"mark":"point","title":{"text":"b","font":"Liberation Serif","fontSize":21,"anchor":"start","frame":"group","offset":0,"dx":127}},
{"title":{"text":"18-21 MLT","fontSize":16.5,"offset":7,"dx":-20,"anchor":"middle"},
"columns":2,"bounds":"flush","spacing":{"row":13.5,"column":36},
"concat":[
{"width":149,"height":27,"title":{"text":"N-hemisphere","frame":"group","fontStyle":"italic","fontSize":12,"offset":17,"dx":-15},
"layer":[
{"data":{"name":"lines"},"transform":[{"filter":"datum.s==='D'"}],"mark":{"type":"line","color":"black","strokeWidth":1},
"encoding":{"x":{"field":"t","type":"quantitative","scale":{"domain":[0,48],"nice":false},"axis":{"tickCount":24,"labels":false,"title":null,"tickSize":{"condition":{"test":"datum.value % 8 === 0","value":5},"value":3}}},
"y":{"field":"v","type":"quantitative","scale":{"domain":[-100,100],"nice":false,"zero":false},"axis":{"tickCount":2,"labelExpr":"'' + datum.value","title":"Dst, nT","titleX":-26,"titleFontSize":8,"tickSize":6}}}},
{"data":{"name":"mid"},"mark":{"type":"rule","color":"black","strokeWidth":1},
"encoding":{"x":{"field":"t","type":"quantitative","scale":{"domain":[0,48],"nice":false},"axis":{"tickCount":24,"labels":false,"title":null,"tickSize":{"condition":{"test":"datum.value % 8 === 0","value":5},"value":3}}},
"y":{"datum":78,"type":"quantitative","scale":{"domain":[-100,100],"nice":false,"zero":false},"axis":{"tickCount":2,"labelExpr":"'' + datum.value","title":"Dst, nT","titleX":-26,"titleFontSize":8,"tickSize":6}},"y2":{"datum":-250}}}]},
{"width":149,"height":27,"title":{"text":"S-hemisphere","frame":"group","fontStyle":"italic","fontSize":12,"offset":22,"dx":-20},
"layer":[
{"data":{"name":"lines"},"transform":[{"filter":"datum.s==='D'"}],"mark":{"type":"line","color":"black","strokeWidth":1},
"encoding":{"x":{"field":"t","type":"quantitative","scale":{"domain":[0,48],"nice":false},"axis":{"tickCount":24,"labels":false,"title":null,"tickSize":{"condition":{"test":"datum.value % 8 === 0","value":5},"value":3}}},
"y":{"field":"v","type":"quantitative","scale":{"domain":[-100,100],"nice":false,"zero":false},"axis":{"tickCount":2,"labels":false,"title":null,"tickSize":6}}}},
{"data":{"name":"mid"},"mark":{"type":"rule","color":"black","strokeWidth":1},
"encoding":{"x":{"field":"t","type":"quantitative","scale":{"domain":[0,48],"nice":false},"axis":{"tickCount":24,"labels":false,"title":null,"tickSize":{"condition":{"test":"datum.value % 8 === 0","value":5},"value":3}}},
"y":{"datum":65,"type":"quantitative","scale":{"domain":[-100,100],"nice":false,"zero":false},"axis":{"tickCount":2,"labels":false,"title":null,"tickSize":6}},"y2":{"datum":-250}}}]},
{"width":149,"height":37,
"layer":[
{"data":{"name":"lines"},"transform":[{"filter":"datum.s==='A'"}],"mark":{"type":"line","color":"black","strokeWidth":1,"strokeDash":[3,2]},
"encoding":{"x":{"field":"t","type":"quantitative","scale":{"domain":[0,48],"nice":false},"axis":{"tickCount":24,"labels":false,"title":null,"tickSize":{"condition":{"test":"datum.value % 8 === 0","value":5},"value":3}}},
"y":{"field":"v","type":"quantitative","scale":{"domain":[-800,0],"nice":false,"zero":false},"axis":{"tickCount":4,"labelExpr":"datum.value % 400 === 0 ? '' + datum.value : ''","title":"AL, nT","titleX":-26,"titleFontSize":8,"tickSize":{"condition":{"test":"datum.value % 400 === 0","value":6},"value":3}}}}},
{"data":{"name":"mid"},"mark":{"type":"rule","color":"black","strokeWidth":1},
"encoding":{"x":{"field":"t","type":"quantitative","scale":{"domain":[0,48],"nice":false},"axis":{"tickCount":24,"labels":false,"title":null,"tickSize":{"condition":{"test":"datum.value % 8 === 0","value":5},"value":3}}},
"y":{"datum":0,"type":"quantitative","scale":{"domain":[-800,0],"nice":false,"zero":false},"axis":{"tickCount":4,"labelExpr":"datum.value % 400 === 0 ? '' + datum.value : ''","title":"AL, nT","titleX":-26,"titleFontSize":8,"tickSize":{"condition":{"test":"datum.value % 400 === 0","value":6},"value":3}}},"y2":{"datum":-1200}}}]},
{"width":149,"height":37,
"layer":[
{"data":{"name":"lines"},"transform":[{"filter":"datum.s==='A'"}],"mark":{"type":"line","color":"black","strokeWidth":1,"strokeDash":[3,2]},
"encoding":{"x":{"field":"t","type":"quantitative","scale":{"domain":[0,48],"nice":false},"axis":{"tickCount":24,"labels":false,"title":null,"tickSize":{"condition":{"test":"datum.value % 8 === 0","value":5},"value":3}}},
"y":{"field":"v","type":"quantitative","scale":{"domain":[-800,0],"nice":false,"zero":false},"axis":{"tickCount":4,"labels":false,"title":null,"tickSize":{"condition":{"test":"datum.value % 400 === 0","value":6},"value":3}}}}},
{"data":{"name":"mid"},"mark":{"type":"rule","color":"black","strokeWidth":1},
"encoding":{"x":{"field":"t","type":"quantitative","scale":{"domain":[0,48],"nice":false},"axis":{"tickCount":24,"labels":false,"title":null,"tickSize":{"condition":{"test":"datum.value % 8 === 0","value":5},"value":3}}},
"y":{"datum":0,"type":"quantitative","scale":{"domain":[-800,0],"nice":false,"zero":false},"axis":{"tickCount":4,"labels":false,"title":null,"tickSize":{"condition":{"test":"datum.value % 400 === 0","value":6},"value":3}}},"y2":{"datum":-1200}}}]},
{"width":149,"height":56,
"layer":[
{"encoding":{"x":{"field":"t","type":"quantitative","scale":{"domain":[0,48],"nice":false},"axis":{"tickCount":24,"labels":false,"title":null,"tickSize":{"condition":{"test":"datum.value % 8 === 0","value":5},"value":3}}},
"y":{"field":"v","type":"quantitative","scale":{"domain":[60,90],"nice":false,"zero":false},"axis":{"tickCount":6,"labelExpr":"datum.value % 10 === 0 ? '' + datum.value : ''","title":"φ, degrees","titleX":-25,"tickSize":{"condition":{"test":"datum.value % 10 === 0","value":6},"value":3}}}},
"layer":[{"data":{"name":"lines"},"transform":[{"filter":"datum.s==='L3'"}],"mark":{"type":"line","color":"black","strokeWidth":1}},
{"data":{"name":"pts"},"transform":[{"filter":"datum.p==='bN3'"}],"mark":{"type":"square","color":"black","size":12,"opacity":1}}]},
{"data":{"name":"mid"},"mark":{"type":"rule","color":"black","strokeWidth":1},
"encoding":{"x":{"field":"t","type":"quantitative","scale":{"domain":[0,48],"nice":false},"axis":{"tickCount":24,"labels":false,"title":null,"tickSize":{"condition":{"test":"datum.value % 8 === 0","value":5},"value":3}}},
"y":{"datum":90,"type":"quantitative","scale":{"domain":[60,90],"nice":false,"zero":false},"axis":{"tickCount":6,"labelExpr":"datum.value % 10 === 0 ? '' + datum.value : ''","title":"φ, degrees","titleX":-25,"tickSize":{"condition":{"test":"datum.value % 10 === 0","value":6},"value":3}}},"y2":{"datum":45}}}]},
{"width":149,"height":56,
"layer":[
{"encoding":{"x":{"field":"t","type":"quantitative","scale":{"domain":[0,48],"nice":false},"axis":{"tickCount":24,"labels":false,"title":null,"tickSize":{"condition":{"test":"datum.value % 8 === 0","value":5},"value":3}}},
"y":{"field":"v","type":"quantitative","scale":{"domain":[60,90],"nice":false,"zero":false},"axis":{"tickCount":6,"labels":false,"title":null,"tickSize":{"condition":{"test":"datum.value % 10 === 0","value":6},"value":3}}}},
"layer":[{"data":{"name":"lines"},"transform":[{"filter":"datum.s==='L3'"}],"mark":{"type":"line","color":"black","strokeWidth":1}},
{"data":{"name":"pts"},"transform":[{"filter":"datum.p==='bS3'"}],"mark":{"type":"square","color":"black","size":12,"opacity":1}}]},
{"data":{"name":"mid"},"mark":{"type":"rule","color":"black","strokeWidth":1},
"encoding":{"x":{"field":"t","type":"quantitative","scale":{"domain":[0,48],"nice":false},"axis":{"tickCount":24,"labels":false,"title":null,"tickSize":{"condition":{"test":"datum.value % 8 === 0","value":5},"value":3}}},
"y":{"datum":90,"type":"quantitative","scale":{"domain":[60,90],"nice":false,"zero":false},"axis":{"tickCount":6,"labels":false,"title":null,"tickSize":{"condition":{"test":"datum.value % 10 === 0","value":6},"value":3}}},"y2":{"datum":45}}},
{"data":{"name":"mid"},"mark":{"type":"text","text":"SDPp","fontSize":10,"color":"#333"},
"encoding":{"x":{"datum":43.5,"type":"quantitative","scale":{"domain":[0,48],"nice":false},"axis":{"tickCount":24,"labels":false,"title":null,"tickSize":{"condition":{"test":"datum.value % 8 === 0","value":5},"value":3}}},
"y":{"datum":86.8,"type":"quantitative","scale":{"domain":[60,90],"nice":false,"zero":false},"axis":{"tickCount":6,"labels":false,"title":null,"tickSize":{"condition":{"test":"datum.value % 10 === 0","value":6},"value":3}}}}}]},
{"width":149,"height":56,
"layer":[
{"encoding":{"x":{"field":"t","type":"quantitative","scale":{"domain":[0,48],"nice":false},"axis":{"tickCount":24,"labels":false,"title":null,"tickSize":{"condition":{"test":"datum.value % 8 === 0","value":5},"value":3}}},
"y":{"field":"v","type":"quantitative","scale":{"domain":[60,80],"nice":false,"zero":false},"axis":{"tickCount":4,"labelExpr":"datum.value % 10 === 0 ? '' + datum.value : ''","title":"φ, degrees","titleX":-25,"tickSize":{"condition":{"test":"datum.value % 10 === 0","value":6},"value":3}}}},
"layer":[{"data":{"name":"lines"},"transform":[{"filter":"datum.s==='L4'"}],"mark":{"type":"line","color":"black","strokeWidth":1}},
{"data":{"name":"pts"},"transform":[{"filter":"datum.p==='bN4'"}],"mark":{"type":"square","color":"black","size":12,"opacity":1}}]},
{"data":{"name":"mid"},"mark":{"type":"rule","color":"black","strokeWidth":1},
"encoding":{"x":{"field":"t","type":"quantitative","scale":{"domain":[0,48],"nice":false},"axis":{"tickCount":24,"labels":false,"title":null,"tickSize":{"condition":{"test":"datum.value % 8 === 0","value":5},"value":3}}},
"y":{"datum":80,"type":"quantitative","scale":{"domain":[60,80],"nice":false,"zero":false},"axis":{"tickCount":4,"labelExpr":"datum.value % 10 === 0 ? '' + datum.value : ''","title":"φ, degrees","titleX":-25,"tickSize":{"condition":{"test":"datum.value % 10 === 0","value":6},"value":3}}},"y2":{"datum":50}}}]},
{"width":149,"height":56,
"layer":[
{"encoding":{"x":{"field":"t","type":"quantitative","scale":{"domain":[0,48],"nice":false},"axis":{"tickCount":24,"labels":false,"title":null,"tickSize":{"condition":{"test":"datum.value % 8 === 0","value":5},"value":3}}},
"y":{"field":"v","type":"quantitative","scale":{"domain":[60,80],"nice":false,"zero":false},"axis":{"tickCount":4,"labels":false,"title":null,"tickSize":{"condition":{"test":"datum.value % 10 === 0","value":6},"value":3}}}},
"layer":[{"data":{"name":"lines"},"transform":[{"filter":"datum.s==='L4'"}],"mark":{"type":"line","color":"black","strokeWidth":1}},
{"data":{"name":"pts"},"transform":[{"filter":"datum.p==='bS4'"}],"mark":{"type":"square","color":"black","size":12,"opacity":1}}]},
{"data":{"name":"mid"},"mark":{"type":"rule","color":"black","strokeWidth":1},
"encoding":{"x":{"field":"t","type":"quantitative","scale":{"domain":[0,48],"nice":false},"axis":{"tickCount":24,"labels":false,"title":null,"tickSize":{"condition":{"test":"datum.value % 8 === 0","value":5},"value":3}}},
"y":{"datum":80,"type":"quantitative","scale":{"domain":[60,80],"nice":false,"zero":false},"axis":{"tickCount":4,"labels":false,"title":null,"tickSize":{"condition":{"test":"datum.value % 10 === 0","value":6},"value":3}}},"y2":{"datum":50}}},
{"data":{"name":"mid"},"mark":{"type":"text","text":"AOPp","fontSize":10,"color":"#333"},
"encoding":{"x":{"datum":43.5,"type":"quantitative","scale":{"domain":[0,48],"nice":false},"axis":{"tickCount":24,"labels":false,"title":null,"tickSize":{"condition":{"test":"datum.value % 8 === 0","value":5},"value":3}}},
"y":{"datum":65,"type":"quantitative","scale":{"domain":[60,80],"nice":false,"zero":false},"axis":{"tickCount":4,"labels":false,"title":null,"tickSize":{"condition":{"test":"datum.value % 10 === 0","value":6},"value":3}}}}}]},
{"width":149,"height":56,
"layer":[
{"encoding":{"x":{"field":"t","type":"quantitative","scale":{"domain":[0,48],"nice":false},"axis":{"tickCount":24,"labels":false,"title":null,"tickSize":{"condition":{"test":"datum.value % 8 === 0","value":5},"value":3}}},
"y":{"field":"v","type":"quantitative","scale":{"domain":[50,80],"nice":false,"zero":false},"axis":{"tickCount":6,"labelExpr":"datum.value % 10 === 0 ? '' + datum.value : ''","title":"φ, degrees","titleX":-25,"tickSize":{"condition":{"test":"datum.value % 10 === 0","value":6},"value":3}}}},
"layer":[{"data":{"name":"lines"},"transform":[{"filter":"datum.s==='L5'"}],"mark":{"type":"line","color":"black","strokeWidth":1}},
{"data":{"name":"pts"},"transform":[{"filter":"datum.p==='bN5'"}],"mark":{"type":"square","color":"black","size":12,"opacity":1}}]},
{"data":{"name":"mid"},"mark":{"type":"rule","color":"black","strokeWidth":1},
"encoding":{"x":{"field":"t","type":"quantitative","scale":{"domain":[0,48],"nice":false},"axis":{"tickCount":24,"labels":false,"title":null,"tickSize":{"condition":{"test":"datum.value % 8 === 0","value":5},"value":3}}},
"y":{"datum":80,"type":"quantitative","scale":{"domain":[50,80],"nice":false,"zero":false},"axis":{"tickCount":6,"labelExpr":"datum.value % 10 === 0 ? '' + datum.value : ''","title":"φ, degrees","titleX":-25,"tickSize":{"condition":{"test":"datum.value % 10 === 0","value":6},"value":3}}},"y2":{"datum":35}}}]},
{"width":149,"height":56,
"layer":[
{"encoding":{"x":{"field":"t","type":"quantitative","scale":{"domain":[0,48],"nice":false},"axis":{"tickCount":24,"labels":false,"title":null,"tickSize":{"condition":{"test":"datum.value % 8 === 0","value":5},"value":3}}},
"y":{"field":"v","type":"quantitative","scale":{"domain":[50,80],"nice":false,"zero":false},"axis":{"tickCount":6,"labels":false,"title":null,"tickSize":{"condition":{"test":"datum.value % 10 === 0","value":6},"value":3}}}},
"layer":[{"data":{"name":"lines"},"transform":[{"filter":"datum.s==='L5'"}],"mark":{"type":"line","color":"black","strokeWidth":1}},
{"data":{"name":"pts"},"transform":[{"filter":"datum.p==='bS5'"}],"mark":{"type":"square","color":"black","size":12,"opacity":1}}]},
{"data":{"name":"mid"},"mark":{"type":"rule","color":"black","strokeWidth":1},
"encoding":{"x":{"field":"t","type":"quantitative","scale":{"domain":[0,48],"nice":false},"axis":{"tickCount":24,"labels":false,"title":null,"tickSize":{"condition":{"test":"datum.value % 8 === 0","value":5},"value":3}}},
"y":{"datum":80,"type":"quantitative","scale":{"domain":[50,80],"nice":false,"zero":false},"axis":{"tickCount":6,"labels":false,"title":null,"tickSize":{"condition":{"test":"datum.value % 10 === 0","value":6},"value":3}}},"y2":{"datum":35}}},
{"data":{"name":"mid"},"mark":{"type":"text","text":"AOPeq","fontSize":10,"color":"#333"},
"encoding":{"x":{"datum":43.5,"type":"quantitative","scale":{"domain":[0,48],"nice":false},"axis":{"tickCount":24,"labels":false,"title":null,"tickSize":{"condition":{"test":"datum.value % 8 === 0","value":5},"value":3}}},
"y":{"datum":78.5,"type":"quantitative","scale":{"domain":[50,80],"nice":false,"zero":false},"axis":{"tickCount":6,"labels":false,"title":null,"tickSize":{"condition":{"test":"datum.value % 10 === 0","value":6},"value":3}}}}}]},
{"width":149,"height":75,
"layer":[
{"encoding":{"x":{"field":"t","type":"quantitative","scale":{"domain":[0,48],"nice":false},"axis":{"tickCount":24,"labelFontSize":10,"labelPadding":2,"labelExpr":"datum.value % 8 !== 0 ? '' : datum.value === 48 ? '24' : (datum.value % 24 < 10 ? '0' : '') + (datum.value % 24)","title":null,"tickSize":{"condition":{"test":"datum.value % 8 === 0","value":5},"value":3}}},
"y":{"field":"v","type":"quantitative","scale":{"domain":[50,80],"nice":false,"zero":false},"axis":{"tickCount":6,"labelExpr":"datum.value % 10 === 0 ? '' + datum.value : ''","title":"φ, degrees","titleX":-25,"tickSize":{"condition":{"test":"datum.value % 10 === 0","value":6},"value":3}}}},
"layer":[{"data":{"name":"lines"},"transform":[{"filter":"datum.s==='L6'"}],"mark":{"type":"line","color":"black","strokeWidth":1}},
{"data":{"name":"pts"},"transform":[{"filter":"datum.p==='bN6'"}],"mark":{"type":"square","color":"black","size":12,"opacity":1}}]},
{"data":{"name":"mid"},"mark":{"type":"rule","color":"black","strokeWidth":1},
"encoding":{"x":{"field":"t","type":"quantitative","scale":{"domain":[0,48],"nice":false},"axis":{"tickCount":24,"labelFontSize":10,"labelPadding":2,"labelExpr":"datum.value % 8 !== 0 ? '' : datum.value === 48 ? '24' : (datum.value % 24 < 10 ? '0' : '') + (datum.value % 24)","title":null,"tickSize":{"condition":{"test":"datum.value % 8 === 0","value":5},"value":3}}},
"y":{"datum":80,"type":"quantitative","scale":{"domain":[50,80],"nice":false,"zero":false},"axis":{"tickCount":6,"labelExpr":"datum.value % 10 === 0 ? '' + datum.value : ''","title":"φ, degrees","titleX":-25,"tickSize":{"condition":{"test":"datum.value % 10 === 0","value":6},"value":3}}},"y2":{"datum":50}}}]},
{"width":149,"height":75,
"layer":[
{"encoding":{"x":{"field":"t","type":"quantitative","scale":{"domain":[0,48],"nice":false},"axis":{"tickCount":24,"labelFontSize":10,"labelPadding":2,"labelExpr":"datum.value % 8 !== 0 ? '' : datum.value === 48 ? '24' : (datum.value % 24 < 10 ? '0' : '') + (datum.value % 24)","title":"UT","titleAnchor":"end","titleAlign":"left","titleAngle":0,"titleX":157,"titleY":14,"titleBaseline":"alphabetic","titleFontSize":10,"tickSize":{"condition":{"test":"datum.value % 8 === 0","value":5},"value":3}}},
"y":{"field":"v","type":"quantitative","scale":{"domain":[50,80],"nice":false,"zero":false},"axis":{"tickCount":6,"labels":false,"title":null,"tickSize":{"condition":{"test":"datum.value % 10 === 0","value":6},"value":3}}}},
"layer":[{"data":{"name":"lines"},"transform":[{"filter":"datum.s==='L6'"}],"mark":{"type":"line","color":"black","strokeWidth":1}},
{"data":{"name":"pts"},"transform":[{"filter":"datum.p==='bS6'"}],"mark":{"type":"square","color":"black","size":12,"opacity":1}}]},
{"data":{"name":"mid"},"mark":{"type":"rule","color":"black","strokeWidth":1},
"encoding":{"x":{"field":"t","type":"quantitative","scale":{"domain":[0,48],"nice":false},"axis":{"tickCount":24,"labelFontSize":10,"labelPadding":2,"labelExpr":"datum.value % 8 !== 0 ? '' : datum.value === 48 ? '24' : (datum.value % 24 < 10 ? '0' : '') + (datum.value % 24)","title":"UT","titleAnchor":"end","titleAlign":"left","titleAngle":0,"titleX":157,"titleY":14,"titleBaseline":"alphabetic","titleFontSize":10,"tickSize":{"condition":{"test":"datum.value % 8 === 0","value":5},"value":3}}},
"y":{"datum":80,"type":"quantitative","scale":{"domain":[50,80],"nice":false,"zero":false},"axis":{"tickCount":6,"labels":false,"title":null,"tickSize":{"condition":{"test":"datum.value % 10 === 0","value":6},"value":3}}},"y2":{"datum":50}}},
{"data":{"name":"mid"},"mark":{"type":"text","text":"DAZ eq","fontSize":10,"color":"#333"},
"encoding":{"x":{"datum":43.8,"type":"quantitative","scale":{"domain":[0,48],"nice":false},"axis":{"tickCount":24,"labelFontSize":10,"labelPadding":2,"labelExpr":"datum.value % 8 !== 0 ? '' : datum.value === 48 ? '24' : (datum.value % 24 < 10 ? '0' : '') + (datum.value % 24)","title":"UT","titleAnchor":"end","titleAlign":"left","titleAngle":0,"titleX":157,"titleY":14,"titleBaseline":"alphabetic","titleFontSize":10,"tickSize":{"condition":{"test":"datum.value % 8 === 0","value":5},"value":3}}},
"y":{"datum":78.4,"type":"quantitative","scale":{"domain":[50,80],"nice":false,"zero":false},"axis":{"tickCount":6,"labels":false,"title":null,"tickSize":{"condition":{"test":"datum.value % 10 === 0","value":6},"value":3}}}}}]}
]}]}
]}
